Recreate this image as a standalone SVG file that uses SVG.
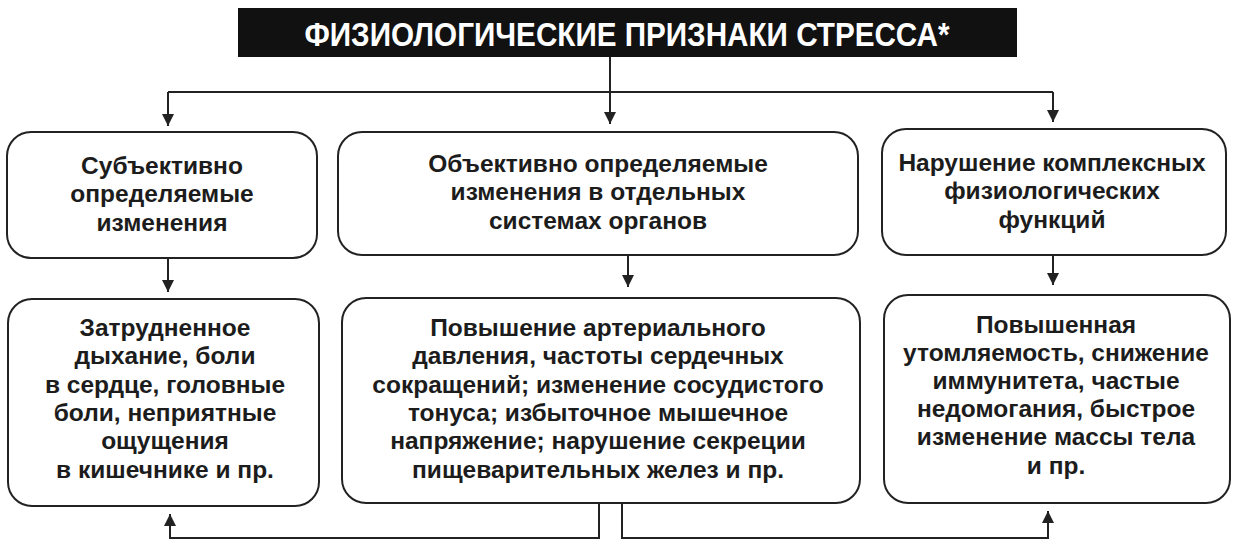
<svg xmlns="http://www.w3.org/2000/svg" width="1240" height="554" viewBox="0 0 1240 554">
<style>
.box{fill:#fff;stroke:#222;stroke-width:2}
.t{font-family:"Liberation Sans",Arial,sans-serif;font-weight:bold;font-size:24.5px;fill:#1c1c1c;text-anchor:middle}
.title{font-family:"Liberation Sans Narrow","Liberation Sans",Arial,sans-serif;font-weight:bold;font-size:33px;fill:#fff;text-anchor:middle}
.c{fill:none;stroke:#222;stroke-width:2}
</style>
<defs>
<marker id="ah" markerUnits="userSpaceOnUse" markerWidth="14" markerHeight="12" refX="12" refY="6" orient="auto">
<path d="M0,0 L12,6 L0,12 Z" fill="#222"/>
</marker>
</defs>
<rect width="1240" height="554" fill="#fff"/>
<g id="title">
<rect x="238" y="8" width="779" height="49" fill="#111"/>
<text class="title" x="627" y="46" textLength="645" lengthAdjust="spacingAndGlyphs">ФИЗИОЛОГИЧЕСКИЕ ПРИЗНАКИ СТРЕССА*</text>
</g>
<g id="connectors">
<path class="c" d="M610 57 V124" marker-end="url(#ah)"/>
<path class="c" d="M168 92 H1053"/>
<path class="c" d="M168 92 V126" marker-end="url(#ah)"/>
<path class="c" d="M1053 92 V122" marker-end="url(#ah)"/>
<path class="c" d="M168 258 V292" marker-end="url(#ah)"/>
<path class="c" d="M628 255 V287" marker-end="url(#ah)"/>
<path class="c" d="M1053 255 V285" marker-end="url(#ah)"/>
<path class="c" d="M599 503 V538 H170 V514" marker-end="url(#ah)"/>
<path class="c" d="M622 503 V538 H1048 V511" marker-end="url(#ah)"/>
</g>
<g id="subjective">
<rect class="box" x="7" y="132" width="310" height="126" rx="24"/>
<text class="t"><tspan x="162" y="174">Субъективно</tspan><tspan x="162" y="202">определяемые</tspan><tspan x="162" y="231">изменения</tspan></text>
</g>
<g id="objective">
<rect class="box" x="338" y="132" width="520" height="123" rx="24"/>
<text class="t"><tspan x="598" y="172">Объективно определяемые</tspan><tspan x="598" y="200">изменения в отдельных</tspan><tspan x="598" y="229">системах органов</tspan></text>
</g>
<g id="complex">
<rect class="box" x="882" y="129" width="344" height="126" rx="24"/>
<text class="t"><tspan x="1052" y="171">Нарушение комплексных</tspan><tspan x="1052" y="199">физиологических</tspan><tspan x="1052" y="228">функций</tspan></text>
</g>
<g id="subjective-signs">
<rect class="box" x="8" y="299" width="311" height="207" rx="24"/>
<text class="t"><tspan x="165" y="336">Затрудненное</tspan><tspan x="165" y="364">дыхание, боли</tspan><tspan x="165" y="393">в сердце, головные</tspan><tspan x="165" y="421">боли, неприятные</tspan><tspan x="165" y="449">ощущения</tspan><tspan x="165" y="478">в кишечнике и пр.</tspan></text>
</g>
<g id="objective-signs">
<rect class="box" x="342" y="298" width="518" height="205" rx="24"/>
<text class="t"><tspan x="598" y="336">Повышение артериального</tspan><tspan x="598" y="364">давления, частоты сердечных</tspan><tspan x="598" y="393">сокращений; изменение сосудистого</tspan><tspan x="598" y="421">тонуса; избыточное мышечное</tspan><tspan x="598" y="449">напряжение; нарушение секреции</tspan><tspan x="598" y="478">пищеварительных желез и пр.</tspan></text>
</g>
<g id="complex-signs">
<rect class="box" x="884" y="295" width="346" height="208" rx="24"/>
<text class="t"><tspan x="1056" y="333">Повышенная</tspan><tspan x="1056" y="361">утомляемость, снижение</tspan><tspan x="1056" y="389">иммунитета, частые</tspan><tspan x="1056" y="417">недомогания, быстрое</tspan><tspan x="1056" y="445">изменение массы тела</tspan><tspan x="1056" y="474">и пр.</tspan></text>
</g>
</svg>
